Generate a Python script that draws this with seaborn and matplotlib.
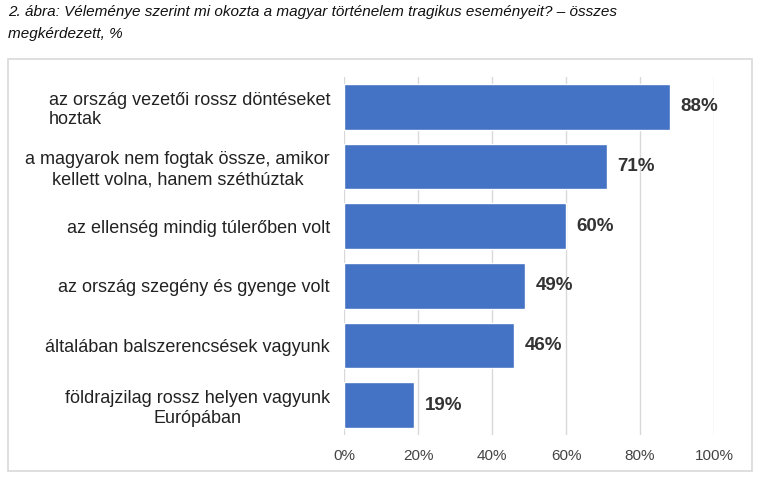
import matplotlib
matplotlib.use('Agg')
import matplotlib.pyplot as plt
import seaborn as sns
import pandas as pd
from matplotlib.patches import Rectangle

# data
categories = [
    'az ország vezetői rossz döntéseket\nhoztak',
    'a magyarok nem fogtak össze, amikor\nkellett volna, hanem széthúztak',
    'az ellenség mindig túlerőben volt',
    'az ország szegény és gyenge volt',
    'általában balszerencsések vagyunk',
    'földrajzilag rossz helyen vagyunk\nEurópában',
]
values = [88, 71, 60, 49, 46, 19]
tick_values = [0, 20, 40, 60, 80, 100]
tick_labels = ['0%', '20%', '40%', '60%', '80%', '100%']
title = ('2. ábra: Véleménye szerint mi okozta a magyar történelem tragikus eseményeit? – összes\n'
         'megkérdezett, %')

df = pd.DataFrame({'cat': categories, 'val': values})

sns.set_style('white')
plt.rcParams['font.family'] = ['Liberation Sans', 'DejaVu Sans']

fig = plt.figure(figsize=(7.69, 4.79), dpi=100)
ax = fig.add_axes([344 / 769, 1 - 435 / 479, 370 / 769, 358 / 479])

sns.barplot(data=df, x='val', y='cat', color='#4472C4', saturation=1,
            width=0.77, ax=ax, zorder=3)

ax.set_xlim(0, 100)
ax.set_ylim(5.5, -0.5)
ax.set_xticks(tick_values)
ax.set_xticklabels(tick_labels, fontsize=11, color='#444444')
ax.set_xlabel('')
ax.set_ylabel('')
ax.tick_params(axis='x', length=0, pad=10)
ax.tick_params(axis='y', length=0, pad=10, labelsize=13, labelcolor='#222222')
for i, lab in enumerate(ax.get_yticklabels()):
    lab.set_multialignment('left' if i == 0 else 'center')
    lab.set_linespacing(1.2)

ax.grid(axis='x', color='#d9d9d9', linewidth=1, zorder=0)
for s in ax.spines.values():
    s.set_visible(False)

for i, v in enumerate(values):
    ax.text(v + 2.9, i, f'{v}%', va='center', ha='left', fontsize=13.5,
            fontweight='bold', color='#333333')

# outer frame
fig.patches.append(Rectangle((8 / 769, 1 - 471 / 479), 744 / 769, 412 / 479,
                             transform=fig.transFigure, fill=False,
                             edgecolor='#d9d9d9', linewidth=1.2))

fig.text(8 / 769, 1 - 5 / 479, title, ha='left', va='top', fontsize=11,
         style='italic', color='#111111', linespacing=1.7)

fig.savefig('out.png', dpi=100)
